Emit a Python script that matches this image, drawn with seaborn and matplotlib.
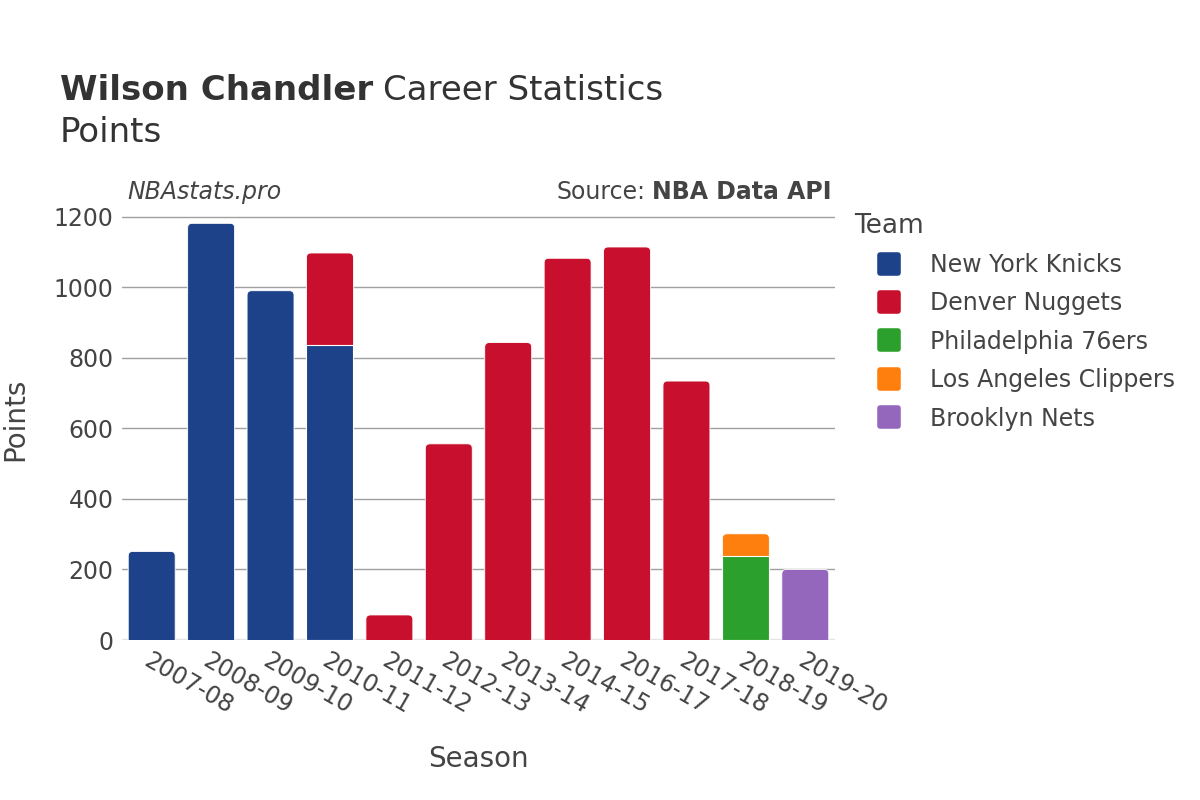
import matplotlib
matplotlib.use("Agg")
import matplotlib.pyplot as plt
import seaborn as sns
import pandas as pd
import numpy as np
from matplotlib.lines import Line2D
from matplotlib.markers import MarkerStyle
from matplotlib.patches import FancyBboxPatch, Rectangle

seasons = ["2007-08", "2008-09", "2009-10", "2010-11", "2011-12", "2012-13",
           "2013-14", "2014-15", "2016-17", "2017-18", "2018-19", "2019-20"]
teams = ["New York Knicks", "Denver Nuggets", "Philadelphia 76ers",
         "Los Angeles Clippers", "Brooklyn Nets"]
knicks = [251, 1181, 990, 837, 0, 0, 0, 0, 0, 0, 0, 0]
nuggets = [0, 0, 0, 260, 71, 556, 843, 1082, 1114, 734, 0, 0]
sixers = [0, 0, 0, 0, 0, 0, 0, 0, 0, 0, 239, 0]
clippers = [0, 0, 0, 0, 0, 0, 0, 0, 0, 0, 62, 0]
nets = [0, 0, 0, 0, 0, 0, 0, 0, 0, 0, 0, 200]
colors = ["#1d428a", "#c8102e", "#2ca02c", "#ff7f0e", "#9467bd"]

values = [knicks, nuggets, sixers, clippers, nets]
rows = []
for t, vals in zip(teams, values):
    for s, v in zip(seasons, vals):
        rows.append({"Season": s, "Team": t, "Points": v})
df = pd.DataFrame(rows)
df["Season"] = pd.Categorical(df["Season"], categories=seasons, ordered=True)
df["Team"] = pd.Categorical(df["Team"], categories=teams, ordered=True)
df = df.sort_values(["Season", "Team"])
df["Cum"] = df.groupby("Season", observed=True)["Points"].cumsum()
totals = df.groupby("Season", observed=True)["Points"].sum().reindex(seasons).values

sns.set_theme(style="white")
plt.rcParams["font.family"] = ["DejaVu Sans"]
text_c = "#444444"

fig = plt.figure(figsize=(12, 8), dpi=100)
ax = fig.add_axes([122 / 1200, 160 / 800, (835 - 122) / 1200, (640 - 205) / 800])

for t, c in reversed(list(zip(teams, colors))):
    sub = df[(df["Team"] == t) & (df["Points"] > 0)].copy()
    sub["Season"] = sub["Season"].astype(str)
    sns.barplot(data=sub, x="Season", y="Cum", order=seasons, color=c,
                width=0.79, saturation=1, ax=ax, edgecolor="white",
                linewidth=0.8, errorbar=None, zorder=3)

ymax = 1233
ax.set_ylim(0, ymax)
ax.set_xlim(-0.5, len(seasons) - 0.5)

# round the top corners of the topmost segment of each stack
ax_w_px = 835 - 122
ax_h_px = 640 - 205
px_x = ax_w_px / len(seasons)
px_y = ax_h_px / ymax
r_px = 4.5
rx = r_px / px_x
ry = r_px / px_y
for p in list(ax.patches):
    if not isinstance(p, Rectangle):
        continue
    x, y, w, h = p.get_x(), p.get_y(), p.get_width(), p.get_height()
    idx = int(round(x + w / 2))
    if abs(h - totals[idx]) < 1e-6:
        fb = FancyBboxPatch((x, y - ry), w, h + ry,
                            boxstyle=f"round,pad=0,rounding_size={rx}",
                            mutation_aspect=ry / rx,
                            facecolor=p.get_facecolor(), edgecolor="white",
                            linewidth=0.6, zorder=2.6)
        p.remove()
        ax.add_patch(fb)

ax.set_yticks([0, 200, 400, 600, 800, 1000, 1200])
ax.yaxis.grid(True, color="#a0a0a0", linewidth=1)
ax.set_axisbelow(True)
for sp in ax.spines.values():
    sp.set_visible(False)
ax.axhline(0, color="#e5e5e5", linewidth=2.5, zorder=2)
ax.tick_params(axis="both", length=0, labelsize=17, colors=text_c, pad=6)
ax.set_xticks(range(len(seasons)))
ax.set_xticklabels(seasons, rotation=-30, ha="left", va="top",
                   rotation_mode="anchor")
ax.set_xlabel("Season", fontsize=20, color=text_c, labelpad=19)
ax.set_ylabel("Points", fontsize=20, color=text_c)
ax.yaxis.set_label_coords((29 - 122) / ax_w_px, (640 - 419) / ax_h_px)

fig.text(60 / 1200, 1 - 90 / 800, "Wilson Chandler", fontsize=24.5, fontweight="bold",
         color="#333333", va="center", ha="left")
fig.canvas.draw()
bb = fig.texts[-1].get_window_extent()
fig.text((bb.x1 + 10) / 1200, 1 - 90 / 800, "Career Statistics", fontsize=24.5,
         color="#333333", va="center", ha="left")
fig.text(60 / 1200, 1 - 133 / 800, "Points", fontsize=24.5, color="#333333",
         va="center", ha="left")

fig.text(127 / 1200, 1 - 192 / 800, "NBAstats.pro", fontsize=17, style="italic",
         color=text_c, va="center", ha="left")
t2 = fig.text(832 / 1200, 1 - 192 / 800, "NBA Data API", fontsize=17,
              fontweight="bold", color=text_c, va="center", ha="right")
fig.canvas.draw()
bb2 = t2.get_window_extent()
fig.text((bb2.x0 - 7) / 1200, 1 - 192 / 800, "Source:", fontsize=17,
         color=text_c, va="center", ha="right")

handles = [Line2D([], [], linestyle="none",
                  marker=MarkerStyle("s", joinstyle="round"),
                  markersize=12.5, markeredgewidth=4, markerfacecolor=c,
                  markeredgecolor=c, label=t)
           for t, c in zip(teams, colors)]
leg = fig.legend(handles=handles, title="Team", loc="upper left",
                 bbox_to_anchor=(838 / 1200, 1 - 196 / 800), frameon=False,
                 fontsize=17, title_fontsize=19, handlelength=2.9,
                 handletextpad=0.3, labelspacing=0.61, borderpad=0.2)
leg._legend_box.align = "left"
for txt in leg.get_texts():
    txt.set_color(text_c)
leg.get_title().set_color(text_c)

fig.savefig("out.png", dpi=100)
